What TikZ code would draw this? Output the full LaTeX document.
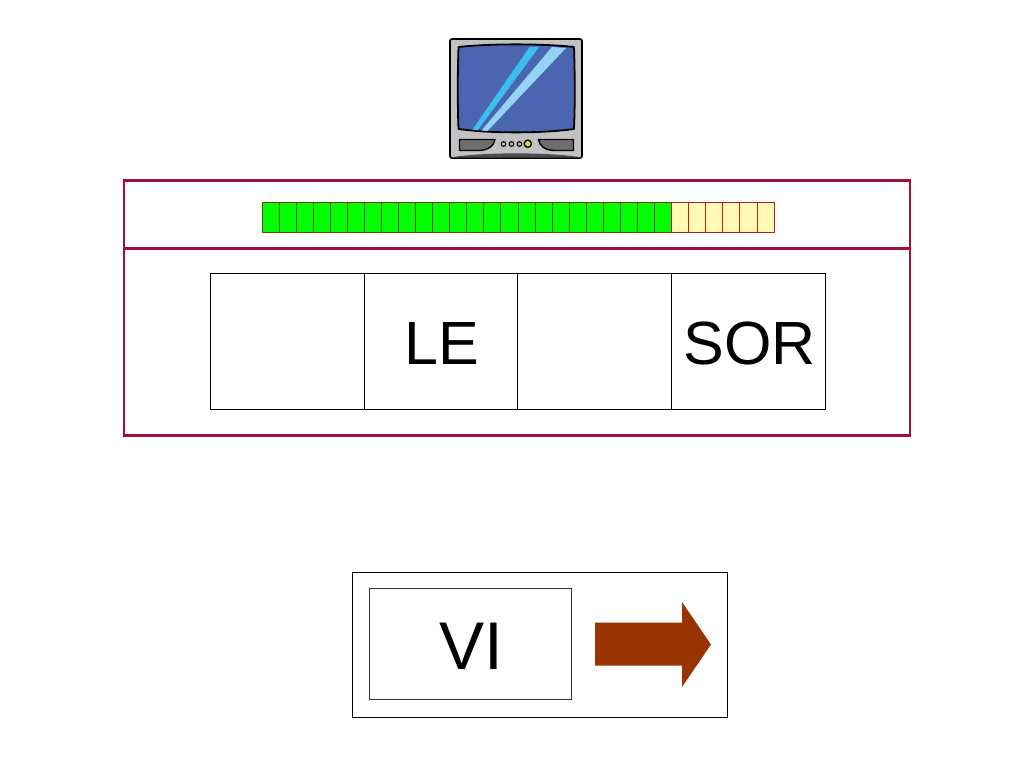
\documentclass[tikz,border=0pt]{standalone}
\usepackage{fontspec}
\setmainfont{Liberation Sans}
\definecolor{framered}{HTML}{A50F37}
\definecolor{barline}{HTML}{B02020}
\definecolor{barlinedark}{HTML}{6A4A10}
\definecolor{barg}{HTML}{00FF00}
\definecolor{bary}{HTML}{FFFBB5}
\definecolor{arrowbrown}{HTML}{993300}
\definecolor{tvblue}{HTML}{4A66B0}
\definecolor{tvgrey}{HTML}{C2C2C4}
\definecolor{tvdark}{HTML}{6E6E70}
\definecolor{streaka}{HTML}{3DBDEE}
\definecolor{streakb}{HTML}{94D3F4}
\definecolor{tvyellow}{HTML}{D4DC3C}
\tikzset{
  panel/.style={draw=framered,line width=2.6pt,minimum width=786pt,inner sep=0pt,anchor=north west},
  cellbox/.style={draw=black,line width=0.9pt,minimum width=153.7pt,minimum height=136.5pt,inner sep=0pt,anchor=north west,text height=47pt,text depth=0pt,font=\fontsize{61}{63}\selectfont},
  greencell/.style={draw=barlinedark,fill=barg,line width=1pt,minimum width=17.07pt,minimum height=30.5pt,inner sep=0pt,anchor=north west},
  yellowcell/.style={greencell,draw=barline,fill=bary},
  plainbox/.style={draw=black,line width=0.8pt,inner sep=0pt,anchor=north west},
  tvline/.style={draw=black,line width=1.4pt,line join=round}
}
\begin{document}
\begin{tikzpicture}[x=1pt,y=-1pt]
\useasboundingbox (0,0) rectangle (1024,768);
% TV
\draw[tvline,fill=tvgrey,line width=1.7pt,rounded corners=2pt] (450,39) rectangle (582,158);
\fill[black!70] (451,157.5) .. controls (480,152) and (552,152) .. (581.5,157.5) -- cycle;
\draw[tvline,fill=tvblue,line width=1.8pt] (458.5,47) .. controls (490,43.5) and (542,43.5) .. (574,47)
  .. controls (575,75) and (575,105) .. (574,129) .. controls (542,133.5) and (490,133.5) .. (458.5,129)
  .. controls (457.5,105) and (457.5,75) .. (458.5,47) -- cycle;
\fill[streaka] (529.5,47) -- (539.5,46.5) -- (477.5,130.5) -- (472.5,129.5) -- cycle;
\fill[streakb] (552,47) -- (566,48) -- (487.5,131) -- (481.5,130.5) -- cycle;
\draw[tvline,fill=tvdark] (459.5,139.5) -- (495,139.5) .. controls (494,146) and (488,150.5) .. (478,150.5) -- (459.5,150.5) -- cycle;
\draw[tvline,fill=tvdark] (573.5,139.5) -- (538.5,139.5) .. controls (539.5,146) and (545,150.5) .. (555,150.5) -- (573.5,150.5) -- cycle;
\foreach \bx in {503.5,511.5,519.5}{
  \draw[fill=tvgrey,draw=black,line width=1.1pt] (\bx,144) circle (2.3pt);
}
\draw[fill=tvyellow,draw=black,line width=1.3pt] (527.8,143.7) circle (3.6pt);
% Panels
\node[panel,minimum height=68pt] (toppanel) at (122.7,179.2) {};
\node[panel,minimum height=187pt] (lowerpanel) at (122.7,247.2) {};
% Progress bar
\foreach \i in {0,...,23}{
  \node[greencell] (g\i) at ({261.5+\i*17.07},201.5) {};
}
\foreach \i in {24,...,29}{
  \node[yellowcell] (y\i) at ({261.5+\i*17.07},201.5) {};
}
% Word cells
\node[cellbox] (c1) at (210,272.7) {};
\node[cellbox] (c2) at (363.7,272.7) {\hspace{2pt}LE};
\node[cellbox] (c3) at (517.4,272.7) {};
\node[cellbox] (c4) at (670.9,272.7) {\hspace{3pt}SOR};
% Answer box
\node[plainbox,minimum width=375.5pt,minimum height=145pt] (outerbox) at (351.5,571.5) {};
\node[plainbox,draw=black!80,minimum width=202.5pt,minimum height=111pt,text height=51.6pt,text depth=0pt,font=\fontsize{67.5}{70}\selectfont] (vibox) at (368.5,588) {\hspace{3pt}VI};
\fill[arrowbrown] (595,622.5) -- (682,622.5) -- (682,602) -- (711,644.5) -- (682,687) -- (682,665.5) -- (595,665.5) -- cycle;
\end{tikzpicture}
\end{document}
